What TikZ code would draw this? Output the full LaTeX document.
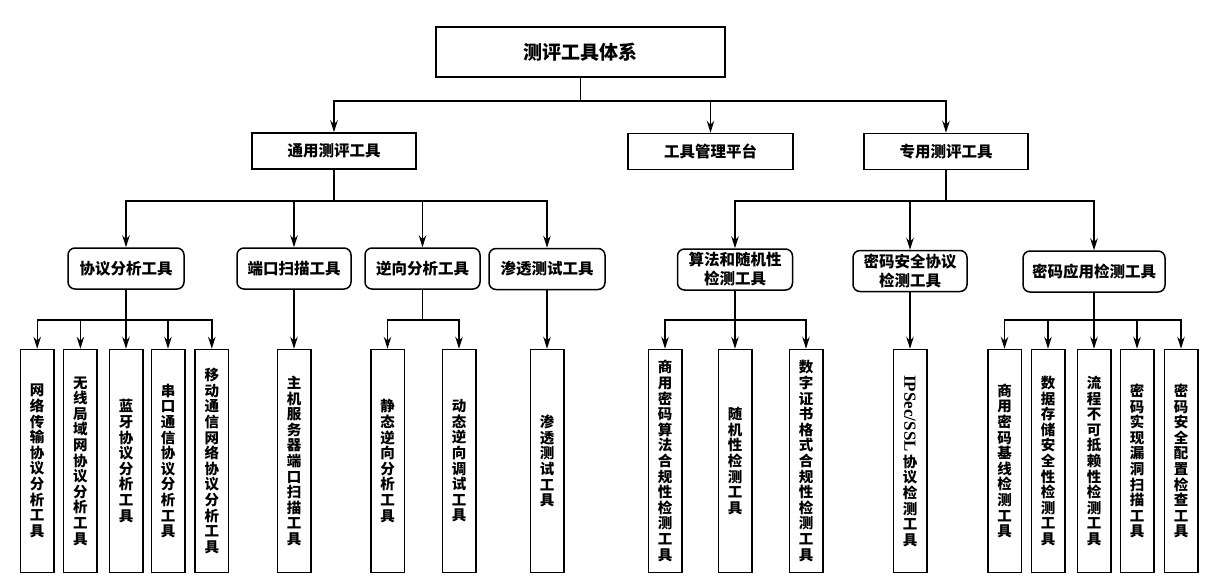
\documentclass[tikz,border=0pt]{standalone}
\usepackage{fontspec}
\setmainfont{Liberation Serif}
\newfontfamily\cjk{Noto Sans CJK SC}
\usetikzlibrary{arrows.meta}
\begin{document}
\begin{tikzpicture}[x=1pt,y=-1pt,
  ln/.style={line width=1.4pt},
  arr/.style={line width=1.4pt,-{Stealth[length=12pt,width=7.5pt,inset=4pt]}},
  base/.style={draw,line width=1.5pt,inner sep=0pt,align=center},
  rootbox/.style={base,minimum width=289pt,minimum height=50pt,font=\cjk\bfseries\fontsize{19}{22}\selectfont},
  onebox/.style={base,minimum width=164pt,minimum height=36pt,font=\cjk\bfseries\fontsize{15.5}{18}\selectfont},
  twobox/.style={base,rounded corners=7pt,minimum height=41pt,font=\cjk\bfseries\fontsize{15.5}{19}\selectfont},
  leaf/.style={base,minimum width=33.5pt,minimum height=223pt,text width=16pt,font=\cjk\bfseries\fontsize{14.5}{15.6}\selectfont}
]
\useasboundingbox (0,0) rectangle (1218,582);
\fill[white] (0,0) rectangle (1218,582);

% root and level 1
\node[rootbox] (root) at (580.5,52) {测评工具体系};
\node[onebox] (gen) at (334,151) {通用测评工具};
\node[onebox,minimum width=165pt] (mgt) at (710.5,151.5) {工具管理平台};
\node[onebox] (spe) at (946,151.5) {专用测评工具};

% level 2
\node[twobox,minimum width=116pt] (p) at (126,268.5) {协议分析工具};
\node[twobox,minimum width=114pt] (q) at (294,268.5) {端口扫描工具};
\node[twobox,minimum width=115pt] (r) at (422.5,268.5) {逆向分析工具};
\node[twobox,minimum width=116pt] (s) at (547,269) {渗透测试工具};
\node[twobox,minimum width=115pt] (a) at (735,269.5) {算法和随机性\\检测工具};
\node[twobox,minimum width=114pt] (b) at (910,271) {密码安全协议\\检测工具};
\node[twobox,minimum width=142pt] (c) at (1094,271.5) {密码应用检测工具};

% leaves
\node[leaf] (p1) at (37.2,461) {网\\络\\传\\输\\协\\议\\分\\析\\工\\具};
\node[leaf] (p2) at (80.4,461) {无\\线\\局\\域\\网\\协\\议\\分\\析\\工\\具};
\node[leaf] (p3) at (126,461) {蓝\\牙\\协\\议\\分\\析\\工\\具};
\node[leaf] (p4) at (168,461) {串\\口\\通\\信\\协\\议\\分\\析\\工\\具};
\node[leaf] (p5) at (211.8,461) {移\\动\\通\\信\\网\\络\\协\\议\\分\\析\\工\\具};
\node[leaf] (q1) at (294,461) {主\\机\\服\\务\\器\\端\\口\\扫\\描\\工\\具};
\node[leaf] (r1) at (387.5,461) {静\\态\\逆\\向\\分\\析\\工\\具};
\node[leaf] (r2) at (459,461) {动\\态\\逆\\向\\调\\试\\工\\具};
\node[leaf] (s1) at (547,461) {渗\\透\\测\\试\\工\\具};
\node[leaf] (a1) at (665,461) {商\\用\\密\\码\\算\\法\\合\\规\\性\\检\\测\\工\\具};
\node[leaf] (a2) at (735,461) {随\\机\\性\\检\\测\\工\\具};
\node[leaf] (a3) at (806,461) {数\\字\\证\\书\\格\\式\\合\\规\\性\\检\\测\\工\\具};
\node[leaf] (b1) at (910,461) {\rotatebox{-90}{\fontspec{Liberation Serif}\fontsize{17}{17}\selectfont IPSec/SSL}\\[2pt]协\\议\\检\\测\\工\\具};
\node[leaf] (c1) at (1004.5,461) {商\\用\\密\\码\\基\\线\\检\\测\\工\\具};
\node[leaf] (c2) at (1048,461) {数\\据\\存\\储\\安\\全\\性\\检\\测\\工\\具};
\node[leaf] (c3) at (1094,461) {流\\程\\不\\可\\抵\\赖\\性\\检\\测\\工\\具};
\node[leaf] (c4) at (1137,461) {密\\码\\实\\现\\漏\\洞\\扫\\描\\工\\具};
\node[leaf] (c5) at (1181,461) {密\\码\\安\\全\\配\\置\\检\\查\\工\\具};

% bus levels
\coordinate (y1) at (0,101);
\coordinate (y2) at (0,201);
\coordinate (y3) at (0,320);

\coordinate (rootbus) at (root.south |- y1);
\draw[ln] (root) -- (rootbus);
\foreach \t in {gen,mgt,spe} \draw[arr] (rootbus) -| (\t);

\coordinate (genbus) at (gen.south |- y2);
\draw[ln] (gen) -- (genbus);
\foreach \t in {p,q,r,s} \draw[arr] (genbus) -| (\t);

\coordinate (spebus) at (spe.south |- y2);
\draw[ln] (spe) -- (spebus);
\foreach \t in {a,b,c} \draw[arr] (spebus) -| (\t);

\coordinate (pbus) at (p.south |- y3);
\draw[ln] (p) -- (pbus);
\foreach \t in {p1,p2,p3,p4,p5} \draw[arr] (pbus) -| (\t);

\draw[arr] (q) -- (q1);

\coordinate (rbus) at (r.south |- y3);
\draw[ln] (r) -- (rbus);
\foreach \t in {r1,r2} \draw[arr] (rbus) -| (\t);

\draw[arr] (s) -- (s1);

\coordinate (abus) at (a.south |- y3);
\draw[ln] (a) -- (abus);
\foreach \t in {a1,a2,a3} \draw[arr] (abus) -| (\t);

\draw[arr] (b) -- (b1);

\coordinate (cbus) at (c.south |- y3);
\draw[ln] (c) -- (cbus);
\foreach \t in {c1,c2,c3,c4,c5} \draw[arr] (cbus) -| (\t);
\end{tikzpicture}
\end{document}
